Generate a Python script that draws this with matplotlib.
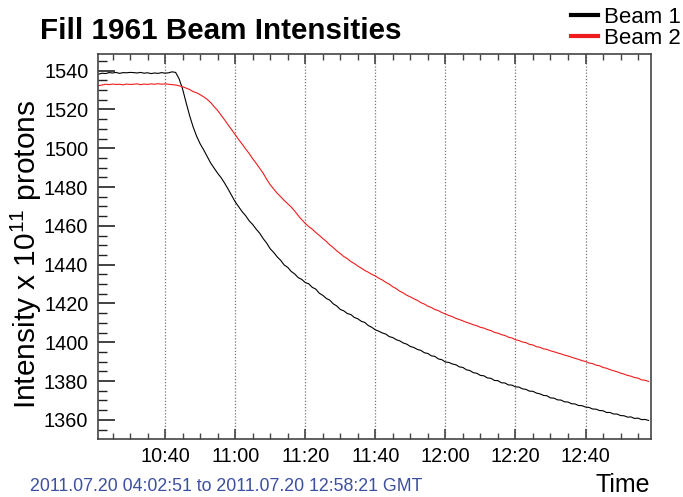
import numpy as np
import pandas as pd
import matplotlib
matplotlib.use('Agg')
import matplotlib.pyplot as plt
import matplotlib.dates as mdates
from matplotlib.lines import Line2D

plt.rcParams['font.family'] = ['Liberation Sans', 'DejaVu Sans']
plt.rcParams['mathtext.fontset'] = 'custom'
plt.rcParams['mathtext.rm'] = 'Liberation Sans'

# one reading per minute, 10:21 -> 12:58
times = pd.date_range('2011-07-20 10:21', '2011-07-20 12:58', freq='1min')

# intensities in units of 1e11 protons
beam1 = [
    1538.2, 1538.7, 1538.5, 1539.0, 1538.8, 1539.1, 1538.6, 1539.0, 1538.9, 1539.1,
    1539.0, 1538.8, 1539.1, 1538.7, 1538.9, 1538.5, 1538.8, 1538.6, 1539.0, 1538.7,
    1538.9, 1539.4, 1539.1, 1535.8, 1530.5, 1523.5, 1516.8, 1511.0, 1506.2, 1502.3,
    1499.2, 1495.8, 1492.4, 1489.8, 1487.1, 1484.8, 1482.0, 1478.9, 1475.6, 1472.4,
    1469.8, 1467.3, 1465.2, 1462.6, 1460.7, 1458.3, 1456.2, 1453.4, 1451.1, 1448.2,
    1446.3, 1444.0, 1442.2, 1439.8, 1438.6, 1436.5, 1435.2, 1433.3, 1432.4, 1430.8,
    1430.1, 1428.3, 1427.4, 1425.3, 1424.2, 1422.6, 1421.7, 1419.8, 1418.7, 1416.9,
    1416.2, 1414.8, 1414.3, 1412.8, 1412.1, 1410.8, 1410.2, 1408.6, 1407.7, 1406.4,
    1405.7, 1404.8, 1404.2, 1402.9, 1402.4, 1401.3, 1400.7, 1399.6, 1399.0, 1397.8,
    1397.3, 1396.3, 1395.8, 1394.6, 1394.2, 1393.0, 1392.7, 1391.4, 1391.0, 1389.8,
    1389.6, 1388.8, 1388.4, 1387.3, 1387.0, 1385.8, 1385.4, 1384.3, 1384.0, 1382.9,
    1382.7, 1381.6, 1381.4, 1380.3, 1380.2, 1379.1, 1379.0, 1378.0, 1377.9, 1377.0,
    1376.9, 1376.0, 1375.7, 1374.8, 1374.7, 1373.8, 1373.4, 1372.6, 1372.4, 1371.3,
    1371.2, 1370.3, 1370.2, 1369.3, 1369.2, 1368.3, 1368.2, 1367.4, 1367.3, 1366.6,
    1366.4, 1365.6, 1365.5, 1364.8, 1364.7, 1363.8, 1363.8, 1363.0, 1363.0, 1362.2,
    1362.1, 1361.4, 1361.5, 1360.7, 1360.9, 1360.1, 1360.2, 1359.7,
]
beam2 = [
    1532.3, 1532.6, 1533.0, 1532.8, 1533.1, 1532.9, 1533.0, 1532.7, 1533.1, 1532.9,
    1533.0, 1533.2, 1532.8, 1533.1, 1532.9, 1533.2, 1533.0, 1533.3, 1533.0, 1533.2,
    1533.0, 1532.8, 1532.6, 1532.2, 1531.7, 1531.0, 1530.3, 1529.2, 1528.6, 1527.6,
    1526.5, 1525.2, 1523.6, 1521.4, 1519.5, 1517.0, 1514.6, 1512.0, 1509.6, 1507.0,
    1504.5, 1502.1, 1499.6, 1497.3, 1494.6, 1492.2, 1489.6, 1487.1, 1484.0, 1481.2,
    1479.0, 1476.8, 1475.0, 1473.1, 1471.4, 1469.7, 1467.6, 1465.3, 1463.2, 1461.3,
    1459.6, 1458.3, 1456.6, 1455.1, 1453.5, 1452.0, 1450.2, 1448.8, 1447.1, 1445.7,
    1444.2, 1443.1, 1441.6, 1440.6, 1439.3, 1438.2, 1437.0, 1436.1, 1435.0, 1434.2,
    1433.0, 1432.1, 1430.9, 1429.9, 1428.6, 1427.6, 1426.3, 1425.4, 1424.2, 1423.4,
    1422.4, 1421.6, 1420.4, 1419.7, 1418.6, 1417.9, 1416.9, 1416.3, 1415.3, 1414.6,
    1413.8, 1413.2, 1412.3, 1411.7, 1411.0, 1410.3, 1409.7, 1409.0, 1408.5, 1407.7,
    1407.3, 1406.5, 1406.0, 1405.1, 1404.7, 1403.9, 1403.5, 1402.6, 1402.2, 1401.3,
    1400.9, 1400.1, 1399.8, 1398.9, 1398.6, 1397.7, 1397.4, 1396.6, 1396.3, 1395.6,
    1395.1, 1394.5, 1394.0, 1393.4, 1392.9, 1392.3, 1391.7, 1391.2, 1390.5, 1390.1,
    1389.3, 1389.0, 1388.2, 1387.9, 1387.0, 1386.6, 1385.9, 1385.3, 1384.8, 1384.1,
    1383.6, 1382.9, 1382.5, 1381.8, 1381.5, 1380.6, 1380.4, 1379.8,
]
labels = ['Beam 1', 'Beam 2']
colors = ['black', '#ee1c1c']

fig = plt.figure(figsize=(6.83, 4.97), dpi=100)
ax = fig.add_axes([0.1435, 0.117, 0.8095, 0.774])

ax.plot(times, beam1, c=colors[0], lw=0.8)
ax.plot(times, beam2, c=colors[1], lw=0.8)

ax.set_xlim(pd.Timestamp('2011-07-20 10:20:51'), pd.Timestamp('2011-07-20 12:58:40'))
ax.set_ylim(1350.2, 1548.5)

ax.xaxis.set_major_locator(mdates.MinuteLocator(byminute=[0, 20, 40]))
ax.xaxis.set_minor_locator(mdates.MinuteLocator(byminute=range(0, 60, 5)))
ax.xaxis.set_major_formatter(mdates.DateFormatter('%H:%M'))
ax.yaxis.set_major_locator(plt.MultipleLocator(20))
ax.yaxis.set_minor_locator(plt.MultipleLocator(5))

ax.tick_params(axis='x', which='both', direction='in', top=True, bottom=True,
               labelsize=14.3, pad=6, color='#444444')
ax.tick_params(axis='x', which='major', length=7, width=1.2)
ax.tick_params(axis='x', which='minor', length=4, width=1)
ax.tick_params(axis='y', which='both', direction='in', left=True, right=False,
               labelsize=14.3, pad=7, color='#222222')
ax.tick_params(axis='y', which='major', length=12, width=1.2)
ax.tick_params(axis='y', which='minor', length=6.5, width=1)
for s in ax.spines.values():
    s.set_color('#444444')
    s.set_linewidth(1.2)

ax.grid(axis='x', which='major', linestyle=(0, (1, 1.5)), color='#777777', lw=0.9)

ax.set_ylabel(r'Intensity x 10$\mathregular{^{11}}$ protons', fontsize=21.5)
ax.yaxis.set_label_coords(-0.097, 0.48)
fig.text(0.952, 0.025, 'Time', fontsize=18, ha='right', va='center')
fig.text(0.044, 0.022, '2011.07.20 04:02:51 to 2011.07.20 12:58:21 GMT',
         fontsize=12.8, color='#3d4f9f', ha='left', va='center')
fig.text(0.059, 0.937, 'Fill 1961 Beam Intensities', fontsize=21.3,
         fontweight='bold', ha='left', va='center')

handles = [Line2D([], [], color=c, lw=3) for c in colors]
fig.legend(handles, labels, loc='upper right', bbox_to_anchor=(1.02, 1.018),
           frameon=False, fontsize=16, handlelength=1.2, handletextpad=0.3,
           labelspacing=0.0, borderpad=0.2)

fig.savefig('out.png', dpi=100)
